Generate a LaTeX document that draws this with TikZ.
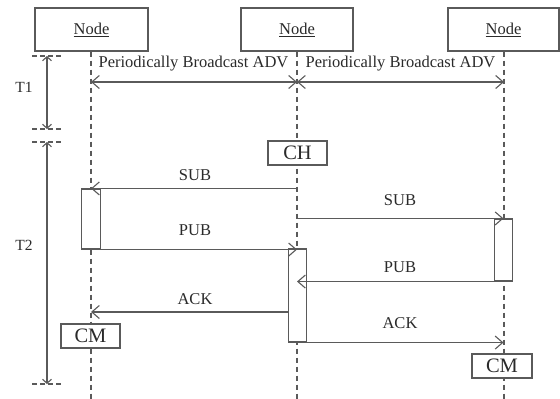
\documentclass[tikz,border=0pt]{standalone}
\usepackage{fontspec}
\setmainfont{Liberation Serif}
\usetikzlibrary{arrows.meta}
\definecolor{ln}{HTML}{5A5A5A}
\definecolor{tx}{HTML}{2A2A2A}
\tikzset{
  nodebox/.style={draw=ln, line width=1.1pt, fill=white, minimum width=112pt, minimum height=43pt, inner sep=0pt, text=tx, font=\fontsize{16.5}{18}\selectfont},
  rolebox/.style={draw=ln, line width=1.1pt, fill=white, minimum width=59pt, minimum height=24pt, inner sep=0pt, text=tx, font=\fontsize{20.5}{22}\selectfont},
  actbox/.style={draw=ln, line width=1.1pt, fill=white, minimum width=18.5pt, inner sep=0pt},
  life/.style={draw=ln, line width=1.1pt, dash pattern=on 5pt off 4pt},
  tick/.style={draw=ln, line width=1.1pt, dash pattern=on 5pt off 3pt},
  msg/.style={draw=ln, line width=1.1pt, -{Straight Barb[length=7.5pt,width=13pt]}},
  bmsg/.style={draw=ln, line width=1.1pt, {Straight Barb[length=7.5pt,width=13pt]}-{Straight Barb[length=7.5pt,width=13pt]}},
  tarr/.style={draw=ln, line width=1.1pt, {Straight Barb[length=4pt,width=9pt]}-{Straight Barb[length=4pt,width=9pt]}},
  lbl/.style={text=tx, inner sep=0pt, font=\fontsize{16.5}{18}\selectfont},
  tlbl/.style={text=tx, inner sep=0pt, font=\fontsize{15.5}{17}\selectfont},
}
\begin{document}
\begin{tikzpicture}[x=1pt,y=-1pt]
\useasboundingbox (0,0) rectangle (560,399);
% bottom ends of lifelines
\coordinate (e1) at (91,399);
\coordinate (e2) at (297,399);
\coordinate (e3) at (504,399);
% header boxes
\node[nodebox, minimum width=113pt] (n1) at (91.5,29.5) {\underline{Node}};
\node[nodebox] (n2) at (297,29.5) {\underline{Node}};
\node[nodebox, minimum width=111pt] (n3) at (503.5,29.5) {\underline{Node}};
% lifelines
\draw[life] (n1.south -| e1) -- (e1);
\draw[life] (n2.south -| e2) -- (e2);
\draw[life] (n3.south -| e3) -- (e3);
% time brackets
\coordinate (t1a) at (47,56);
\coordinate (t1b) at (47,129);
\coordinate (t2a) at (47,142);
\coordinate (t2b) at (47,384);
\draw[tick] ([xshift=-15pt]t1a) -- ([xshift=15pt]t1a);
\draw[tick] ([xshift=-15pt]t1b) -- ([xshift=15pt]t1b);
\draw[tick] ([xshift=-15pt]t2a) -- ([xshift=15pt]t2a);
\draw[tick] ([xshift=-15pt]t2b) -- ([xshift=15pt]t2b);
\draw[tarr] (t1a) -- (t1b);
\draw[tarr] (t2a) -- (t2b);
\node[tlbl] (lt1) at (24,87) {T1};
\node[tlbl] (lt2) at (24,245) {T2};
% broadcast
\coordinate (b1) at (91,82);
\coordinate (b2) at (297,82);
\coordinate (b3) at (504,82);
\draw[bmsg] (b1) -- (b2);
\draw[bmsg] (b2) -- (b3);
\node[lbl] (adv1) at (193.5,64) {Periodically Broadcast ADV};
\node[lbl] (adv2) at (400.5,64) {Periodically Broadcast ADV};
% role boxes
\node[rolebox] (ch) at (297.5,153) {CH};
\node[rolebox] (cm1) at (90.5,336) {CM};
\node[rolebox, minimum width=60pt] (cm2) at (502,366) {CM};
% activation boxes
\node[actbox, minimum height=60pt] (a1) at (91,219) {};
\node[actbox, minimum height=93pt] (a2) at (297.5,295.5) {};
\node[actbox, minimum height=62pt] (a3) at (503.5,250) {};
% messages
\draw[msg] (n2 |- a1.north) -- (a1.north);
\node[lbl] (sub1) at (195,175) {SUB};
\draw[msg] (a1.south east) -- (n2 |- a1.south);
\node[lbl] (pub1) at (195,230) {PUB};
\draw[msg] (n2 |- a3.north) -- (a3.north);
\node[lbl] (sub2) at (400,200) {SUB};
\draw[msg] (a3.south west) -- (n2 |- a3.south);
\node[lbl] (pub2) at (400,267) {PUB};
\coordinate (k1) at (91,312);
\draw[msg] (a2.west |- k1) -- (k1);
\node[lbl] (ack1) at (195,299) {ACK};
\draw[msg] (a2.south east) -- (n3 |- a2.south);
\node[lbl] (ack2) at (400,323) {ACK};
\end{tikzpicture}
\end{document}
